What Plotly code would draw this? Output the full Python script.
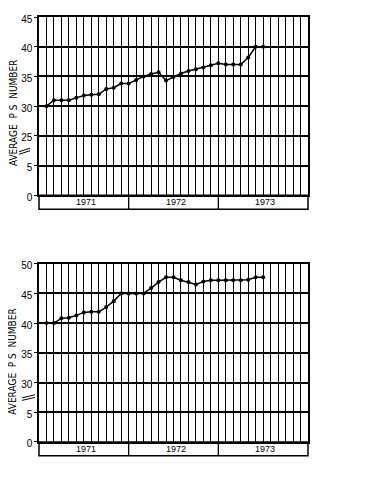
import plotly.graph_objects as go
from plotly.subplots import make_subplots

# ---- data ----
months = list(range(1, 31))  # month index from Jan 1971 (grid line number)
years = ["1971", "1972", "1973"]
year_start = [0, 12, 24]
year_end = [12, 24, 36]
n_months = 36

top_values = [30.0, 31.0, 31.0, 31.0, 31.4, 31.8, 31.9, 32.0, 32.9, 33.1,
              33.8, 33.8, 34.4, 35.0, 35.4, 35.7, 34.3, 34.9, 35.5, 35.9,
              36.2, 36.5, 36.9, 37.2, 37.0, 37.0, 37.0, 38.2, 40.0, 40.0]
bottom_values = [40.0, 40.0, 40.8, 40.9, 41.3, 41.8, 41.9, 41.9, 42.7, 43.7,
                 45.0, 45.0, 45.0, 45.0, 45.9, 46.9, 47.7, 47.7, 47.2, 46.9,
                 46.5, 47.0, 47.2, 47.2, 47.2, 47.2, 47.2, 47.3, 47.7, 47.7]

top_tickvals = [15, 20, 25, 30, 35, 40, 45]
top_ticktext = ["0", "5", "25", "30", "35", "40", "45"]
bot_tickvals = [20, 25, 30, 35, 40, 45, 50]
bot_ticktext = ["0", "5", "30", "35", "40", "45", "50"]

FONT = "Liberation Sans, Arial, sans-serif"
NARROW = "Liberation Sans Narrow, DejaVu Sans Condensed, Arial Narrow, sans-serif"
OFF = 8  # page body margin
W, H = 365 - 2 * OFF, 493 - 2 * OFF
# target screen coordinates
SX0, SX1 = 39, 308
TOP_Y0, TOP_Y1 = 13, 193
BOT_Y0, BOT_Y1 = 262, 442
ML = SX0 - OFF
MR = W - (SX1 - OFF)
MT = TOP_Y0 - OFF
MB = H - (BOT_Y1 - OFF)
plot_h = TOP_Y1 - TOP_Y0
paper_h = H - MT - MB
pw = W - ML - MR
band = 14 / plot_h

fig = make_subplots(rows=2, cols=1, vertical_spacing=0.0)
fig.update_layout(
    yaxis=dict(domain=[1 - plot_h / paper_h, 1]),
    yaxis2=dict(domain=[0, plot_h / paper_h]),
)

for r, vals in ((1, top_values), (2, bottom_values)):
    fig.add_trace(go.Scatter(x=months, y=vals, mode="lines+markers",
                             line=dict(color="black", width=1.5),
                             marker=dict(color="black", size=4),
                             showlegend=False, cliponaxis=False), row=r, col=1)

fig.update_xaxes(range=[0, n_months], dtick=1, tick0=0, showticklabels=False,
                 showgrid=True, gridcolor="black", gridwidth=1.3,
                 showline=True, linecolor="black", linewidth=1.5, mirror=True,
                 ticks="", zeroline=False)

yaxis_common = dict(showgrid=True, gridcolor="black", gridwidth=1.5,
                    showline=True, linecolor="black", linewidth=1.5, mirror=True,
                    ticks="outside", ticklen=3, tickcolor="black", zeroline=False,
                    tickfont=dict(family=FONT, size=10, color="black"),
                    ticklabelshift=2)
fig.update_yaxes(range=[15, 45], tickvals=top_tickvals, ticktext=top_ticktext, row=1, col=1, **yaxis_common)
fig.update_yaxes(range=[20, 50], tickvals=bot_tickvals, ticktext=bot_ticktext, row=2, col=1, **yaxis_common)

shapes = []
annotations = []
centers = [(a + b) / 2 for a, b in zip(year_start, year_end)]
for xa, ya in (("x", "y"), ("x2", "y2")):
    shapes.append(dict(type="rect", xref=xa + " domain", yref=ya + " domain", x0=0, x1=1, y0=-band, y1=0,
                       line=dict(color="black", width=1.5)))
    for b in year_start[1:]:
        shapes.append(dict(type="line", xref=xa + " domain", yref=ya + " domain",
                           x0=b / n_months, x1=b / n_months,
                           y0=-band, y1=0, line=dict(color="black", width=1.3)))
    for c, yr in zip(centers, years):
        annotations.append(dict(text=yr, xref=xa, yref=ya + " domain", x=c + 0.3, y=-band / 2,
                                showarrow=False, xanchor="center", yanchor="middle",
                                font=dict(family=FONT, size=9, color="black")))

def px(xs):
    return (xs - SX0) / pw
def py(ys):
    return (BOT_Y1 - ys) / paper_h

# axis break marks
for (x0, y0, x1, y1) in [(19, 149, 30, 145.5), (19, 151.5, 30, 148),
                         (22, 397.5, 35, 394.3), (22, 400, 35, 397)]:
    shapes.append(dict(type="line", xref="paper", yref="paper",
                       x0=px(x0), y0=py(y0), x1=px(x1), y1=py(y1),
                       line=dict(color="black", width=1)))

title = "AVERAGE\u00a0\u00a0P\u00a0S\u00a0\u00a0NUMBER"
for yc in (110, 361):
    annotations.append(dict(text=title, xref="paper", yref="paper", x=px(13), y=py(yc), textangle=-90,
                            showarrow=False, font=dict(family=NARROW, size=10, color="black"),
                            xanchor="center", yanchor="middle"))

fig.update_layout(width=W, height=H, margin=dict(l=ML, r=MR, t=MT, b=MB),
                  plot_bgcolor="white", paper_bgcolor="white",
                  shapes=shapes, annotations=annotations)

fig.write_html("out.html")
